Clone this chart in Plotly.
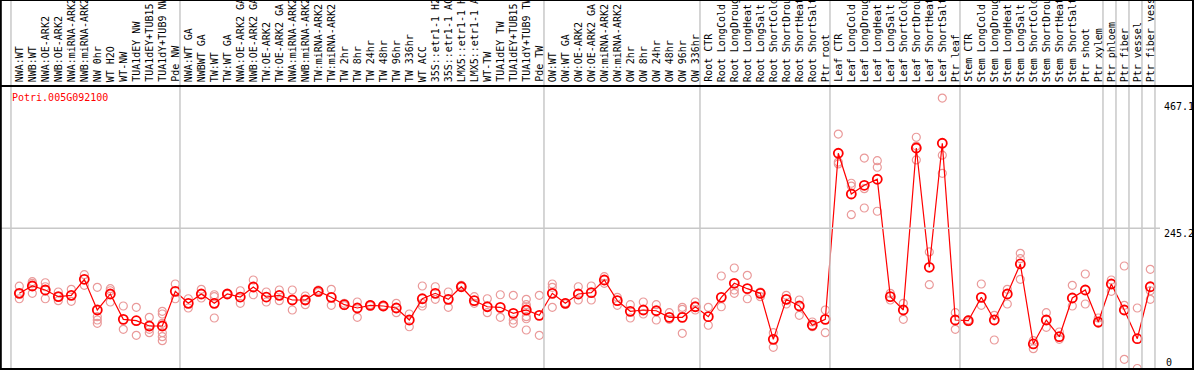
import plotly.graph_objects as go

gene = "Potri.005G092100"

labels = [
    "NWA:WT", "NWB:WT", "NWA:OE-ARK2", "NWB:OE-ARK2", "NWA:miRNA-ARK2", "NWB:miRNA-ARK2",
    "NW 0hr", "WT H2O", "WT-NW", "TUA1dEY NW", "TUA1dEY+TUB15 NW", "TUA1dY+TUB9 NW", "Pde NW",
    "NWA:WT GA", "NWBWT GA", "TW:WT", "TW:WT GA", "NWA:OE-ARK2 GA", "NWB:OE-ARK2 GA",
    "TW:OE-ARK2", "TW:OE-ARK2 GA", "NWA:miRNA-ARK2 GA", "NWB:miRNA-ARK2 GA", "TW:miRNA-ARK2",
    "TW:miRNA-ARK2 GA", "TW 2hr", "TW 8hr", "TW 24hr", "TW 48hr", "TW 96hr", "TW 336hr",
    "WT ACC", "35S::etr1-1 H2O", "35S::etr1-1 ACC", "LMX5::etr1-1 H2O", "LMX5::etr1-1 ACC",
    "WT-TW", "TUA1dEY TW", "TUA1dEY+TUB15 TW", "TUA1dY+TUB9 TW", "Pde TW",
    "OW:WT", "OW:WT GA", "OW:OE-ARK2", "OW:OE-ARK2 GA", "OW:miRNA-ARK2", "OW:miRNA-ARK2 GA",
    "OW 2hr", "OW 8hr", "OW 24hr", "OW 48hr", "OW 96hr", "OW 336hr",
    "Root CTR", "Root LongCold", "Root LongDrought", "Root LongHeat", "Root LongSalt",
    "Root ShortCold", "Root ShortDrought", "Root ShortHeat", "Root ShortSalt", "Ptr root",
    "Leaf CTR", "Leaf LongCold", "Leaf LongDrought", "Leaf LongHeat", "Leaf LongSalt",
    "Leaf ShortCold", "Leaf ShortDrought", "Leaf ShortHeat", "Leaf ShortSalt", "Ptr leaf",
    "Stem CTR", "Stem LongCold", "Stem LongDrought", "Stem LongHeat", "Stem LongSalt",
    "Stem ShortCold", "Stem ShortDrought", "Stem ShortHeat", "Stem ShortSalt", "Ptr shoot",
    "Ptr xylem", "Ptr phloem", "Ptr fiber", "Ptr vessel", "Ptr fiber vessel",
]

means = [
    131.5, 144.3, 137.3, 125.6, 128.0, 156.0, 102.3, 130.3, 86.0, 83.6, 74.3, 74.3, 135.0,
    114.0, 130.3, 114.0, 130.3, 125.0, 142.5, 125.0, 128.0, 119.8, 119.8, 135.0, 124.5,
    111.6, 105.8, 110.5, 109.3, 105.8, 84.8, 122.0, 131.5, 121.0, 143.0, 118.6, 108.0,
    107.0, 96.5, 102.3, 93.0,
    131.5, 114.0, 130.3, 132.6, 154.8, 118.6, 100.0, 102.3, 101.0, 89.5, 89.5, 108.0,
    90.6, 124.5, 149.0, 139.6, 131.5, 51.0, 121.0, 109.3, 75.6, 86.0,
    376.4, 305.2, 320.4, 331.0, 125.6, 102.3, 385.6, 177.0, 393.9, 84.8,
    83.6, 124.5, 84.8, 130.3, 182.8, 42.9, 84.8, 55.6, 123.3, 137.3, 81.3,
    147.8, 102.3, 52.1, 143.0,
]

replicates = [
    [144.0, 122.0, 131.5], [151.8, 131.5, 149.0], [150.0, 122.0, 143.0], [133.8, 118.6, 125.6],
    [138.5, 117.5], [164.0, 145.5], [142.0, 90.6, 84.8, 79.0], [139.6, 116.3, 136.0],
    [109.3, 68.5], [107.0, 58.0], [89.5, 62.6, 68.5], [100.0, 95.3, 79.0, 62.6, 55.6, 48.6],
    [147.8, 122.0],
    [122.0, 105.8], [138.5, 123.3], [129.0, 125.6, 88.3], [130.0, 131.0], [136.0, 114.0],
    [154.8, 129.0], [133.8, 116.3], [137.3, 118.6], [137.3, 102.3], [126.8, 111.6, 119.8],
    [137.0, 133.0], [138.5, 110.5], [114.0, 110.0], [116.3, 89.5], [111.6, 109.3],
    [110.5, 108.0], [114.0, 97.6], [95.3, 73.0], [144.3, 114.0, 109.3], [143.0, 121.0],
    [133.8, 107.0], [145.5, 143.0], [125.6, 114.0], [122.0, 97.6], [129.0, 89.5],
    [128.0, 84.8, 79.0], [121.0, 111.6, 108.0, 90.6, 87.0, 67.3], [128.0, 58.0],
    [147.8, 142.0, 107.0], [115.0, 113.0], [143.0, 119.8], [144.3, 119.8], [160.6, 149.0],
    [124.5, 110.5], [111.6, 88.3], [116.3, 95.3], [111.6, 84.8], [97.6, 86.0],
    [107.0, 103.5, 61.6], [116.3, 102.3],
    [107.0, 75.6], [161.8, 108.0], [175.8, 137.3, 131.5], [163.0, 122.0], [133.8, 125.6],
    [62.6, 37.0], [128.0, 112.8], [119.8, 93.0], [81.3, 73.0], [102.3, 62.6],
    [410.0, 361.0, 357.7], [324.0, 269.0, 319.0], [368.0, 280.7, 314.5], [363.4, 352.0, 275.0],
    [131.5, 119.8], [114.0, 86.0], [404.4, 389.0, 364.7], [203.8, 146.6],
    [473.0, 373.0, 341.4], [97.6, 68.5],
    [85.0, 82.0], [147.8, 110.5], [93.0, 49.8], [138.5, 112.8], [201.5, 192.0, 156.0],
    [48.6, 34.6], [97.6, 72.0], [63.8, 51.0], [145.5, 109.3], [165.3, 112.8], [88.3, 79.0],
    [154.8, 135.0], [179.3, 110.5, 16.0], [105.8, 0.0], [173.5, 136.0, 121.0],
]

group_starts = [0, 13, 41, 53, 63, 73, 84, 85, 86, 87, 88]
y_ticks = [0, 245.2, 467.1]
y_tick_text = ["0", "245.2", "467.1"]

W, H = 1194, 370
x_idx = list(range(len(labels)))

rx, ry = [], []
for i, reps in enumerate(replicates):
    for v in reps:
        rx.append(i)
        ry.append(v)

fig = go.Figure()
fig.add_trace(go.Scatter(
    x=rx, y=ry, mode="markers",
    marker=dict(symbol="circle-open", size=8, color="#ea9a9a", line=dict(width=1.2, color="#ea9a9a")),
    hoverinfo="skip", showlegend=False, cliponaxis=False,
))
fig.add_trace(go.Scatter(
    x=x_idx, y=means, mode="lines+markers",
    line=dict(color="#ff0000", width=1.2),
    marker=dict(symbol="circle-open", size=9, color="#ff0000", line=dict(width=1.8, color="#ff0000")),
    showlegend=False, cliponaxis=False,
))

px_per_unit = 13.0
x0 = -19.3 / px_per_unit
x1 = x0 + W / px_per_unit
ybot_px, ytop_px = 369, 86
scale = 0.5718
y_zero_px = 368.5
yr0 = (y_zero_px - ybot_px) / scale
yr1 = (y_zero_px - ytop_px) / scale

shapes = []
grid = "#c8c8c8"
for b in group_starts:
    shapes.append(dict(type="line", xref="x", yref="paper", x0=b - 0.64, x1=b - 0.64,
                       y0=(H - ybot_px) / H, y1=1, line=dict(color=grid, width=1.5)))
shapes.append(dict(type="line", xref="paper", yref="y", x0=0, x1=1160 / W,
                   y0=y_ticks[1], y1=y_ticks[1], line=dict(color=grid, width=1.5)))
# frame
blk = dict(color="black", width=2)
shapes += [
    dict(type="line", xref="paper", yref="paper", x0=0, x1=1, y0=1, y1=1, line=blk),
    dict(type="line", xref="paper", yref="paper", x0=0, x1=1, y0=(H - 86) / H, y1=(H - 86) / H, line=blk),
    dict(type="line", xref="paper", yref="paper", x0=0, x1=1, y0=(H - 369) / H, y1=(H - 369) / H, line=blk),
    dict(type="line", xref="paper", yref="paper", x0=0.8 / W, x1=0.8 / W, y0=0, y1=1, line=blk),
    dict(type="line", xref="paper", yref="paper", x0=1193 / W, x1=1193 / W, y0=0, y1=1, line=blk),
]

mono = "DejaVu Sans Mono"
ann = []
for i, lab in enumerate(labels):
    ann.append(dict(x=i, y=(H - 84) / H, xref="x", yref="paper", text=lab, showarrow=False,
                    textangle=-90, xanchor="center", yanchor="bottom",
                    font=dict(family=mono, size=10, color="black")))
ann.append(dict(x=10 / W, y=(H - 97) / H, xref="paper", yref="paper", text=gene, showarrow=False,
                xanchor="left", yanchor="middle", font=dict(family=mono, size=10, color="#ff0000")))
for v, t in zip(y_ticks, y_tick_text):
    shift = -5 if v > 0 else 6.5
    xpos = 1162 if v > 0 else 1164
    ann.append(dict(x=xpos / W, y=v, xref="paper", yref="y", text=t, showarrow=False,
                    xanchor="left", yanchor="middle", yshift=shift,
                    font=dict(family=mono, size=10, color="black")))

fig.update_layout(
    width=W, height=H, margin=dict(l=0, r=0, t=0, b=0),
    paper_bgcolor="white", plot_bgcolor="white",
    xaxis=dict(range=[x0, x1], domain=[0, 1], visible=False, fixedrange=True),
    yaxis=dict(range=[yr0, yr1], domain=[(H - ybot_px) / H, (H - ytop_px) / H], visible=False),
    shapes=shapes, annotations=ann, showlegend=False,
)
fig.write_html("out.html", config={"displayModeBar": False, "staticPlot": True},
               post_script="document.body.style.margin='0';document.body.style.overflow='hidden';")
